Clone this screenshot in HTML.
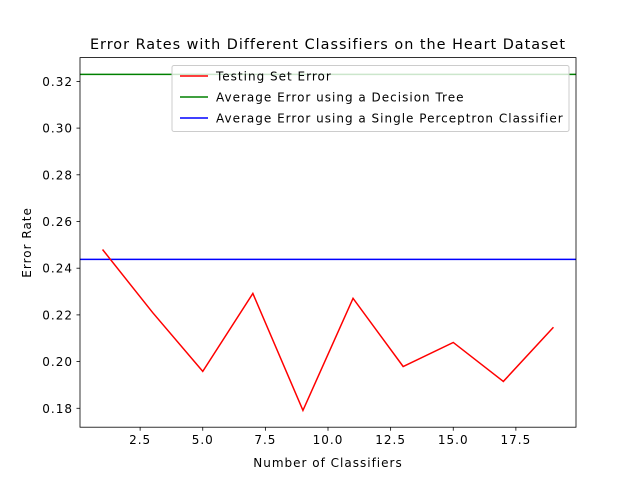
<!DOCTYPE html>
<html><head><meta charset="utf-8"><style>
body{margin:0;background:#fff;}
svg{display:block;font-family:"DejaVu Sans","Liberation Sans",sans-serif;}
svg text{letter-spacing:1px;}
</style></head><body>
<svg id="chart" width="640" height="480">
<rect width="640" height="480" fill="#fff"/>
</svg>
<script>
const xValues=[1,3,5,7,9,11,13,15,17,19];
const testErrors=[0.248,0.221,0.1958,0.2292,0.1791,0.2271,0.1979,0.2082,0.1915,0.2147];
const treeError=[0.323];
const perceptronError=[0.2438];
const xTicks=[2.5,5.0,7.5,10.0,12.5,15.0,17.5];
const yTicks=[0.18,0.20,0.22,0.24,0.26,0.28,0.30,0.32];
const legendLabels=["Testing Set Error","Average Error using a Decision Tree","Average Error using a Single Perceptron Classifier"];

const L=80,R=576,T=57.6,B=427.2;
const xMin=0.1,xMax=19.9,yMin=0.1719,yMax=0.3302;
const sx=v=>L+(v-xMin)/(xMax-xMin)*(R-L);
const sy=v=>B-(v-yMin)/(yMax-yMin)*(B-T);
const svg=document.getElementById('chart');
const NS='http://www.w3.org/2000/svg';
function mk(tag,attrs,parent){const e=document.createElementNS(NS,tag);for(const k in attrs)e.setAttribute(k,attrs[k]);(parent||svg).appendChild(e);return e;}

let t=mk('text',{x:(L+R)/2,y:49,'text-anchor':'middle','font-size':14.4,'letter-spacing':'1.15px'});
t.textContent='Error Rates with Different Classifiers on the Heart Dataset';



xTicks.forEach(v=>{
 const g=mk('g',{});
 
 
 mk('line',{x1:sx(v),x2:sx(v),y1:B,y2:B+3.5,stroke:'#000','stroke-width':0.8},g);
 const tx=mk('text',{x:sx(v),y:B+17,'text-anchor':'middle','font-size':12},g);
 tx.textContent=v.toFixed(1);
});
yTicks.forEach(v=>{
 const g=mk('g',{});
 
 
 mk('line',{x1:L-3.5,x2:L,y1:sy(v),y2:sy(v),stroke:'#000','stroke-width':0.8},g);
 const tx=mk('text',{x:L-7,y:sy(v)+4.5,'text-anchor':'end','font-size':12},g);
 tx.textContent=v.toFixed(2);
});
t=mk('text',{x:(L+R)/2,y:467,'text-anchor':'middle','font-size':12});
t.textContent='Number of Classifiers';


t=mk('text',{x:31,y:(T+B)/2,'text-anchor':'middle','font-size':12,transform:`rotate(-90 31 ${(T+B)/2})`});
t.textContent='Error Rate';



let ln=mk('line',{x1:L,x2:R,y1:sy(treeError[0]),y2:sy(treeError[0]),stroke:'#008000','stroke-width':1.5});


ln=mk('line',{x1:L,x2:R,y1:sy(perceptronError[0]),y2:sy(perceptronError[0]),stroke:'#0000ff','stroke-width':1.5});


const pts=xValues.map((x,i)=>sx(x)+','+sy(testErrors[i])).join(' ');
ln=mk('polyline',{points:pts,fill:'none',stroke:'#ff0000','stroke-width':1.5});



const fr=mk('rect',{x:L,y:T,width:R-L,height:B-T,fill:'none',stroke:'#000','stroke-width':0.8});



const lg=mk('g',{});


mk('rect',{x:172,y:65.5,width:397,height:66,rx:2,fill:'#fff','fill-opacity':0.8,stroke:'#ccc','stroke-width':1},lg);
const cols=['#ff0000','#008000','#0000ff'];
legendLabels.forEach((lab,i)=>{
 const g=mk('g',{},lg);
 
 
 const y=76+i*21;
 mk('line',{x1:180,x2:208,y1:y,y2:y,stroke:cols[i],'stroke-width':1.5},g);
 const tx=mk('text',{x:216,y:y+4.5,'font-size':12},g);
 tx.textContent=lab;
});
</script>
</body></html>
